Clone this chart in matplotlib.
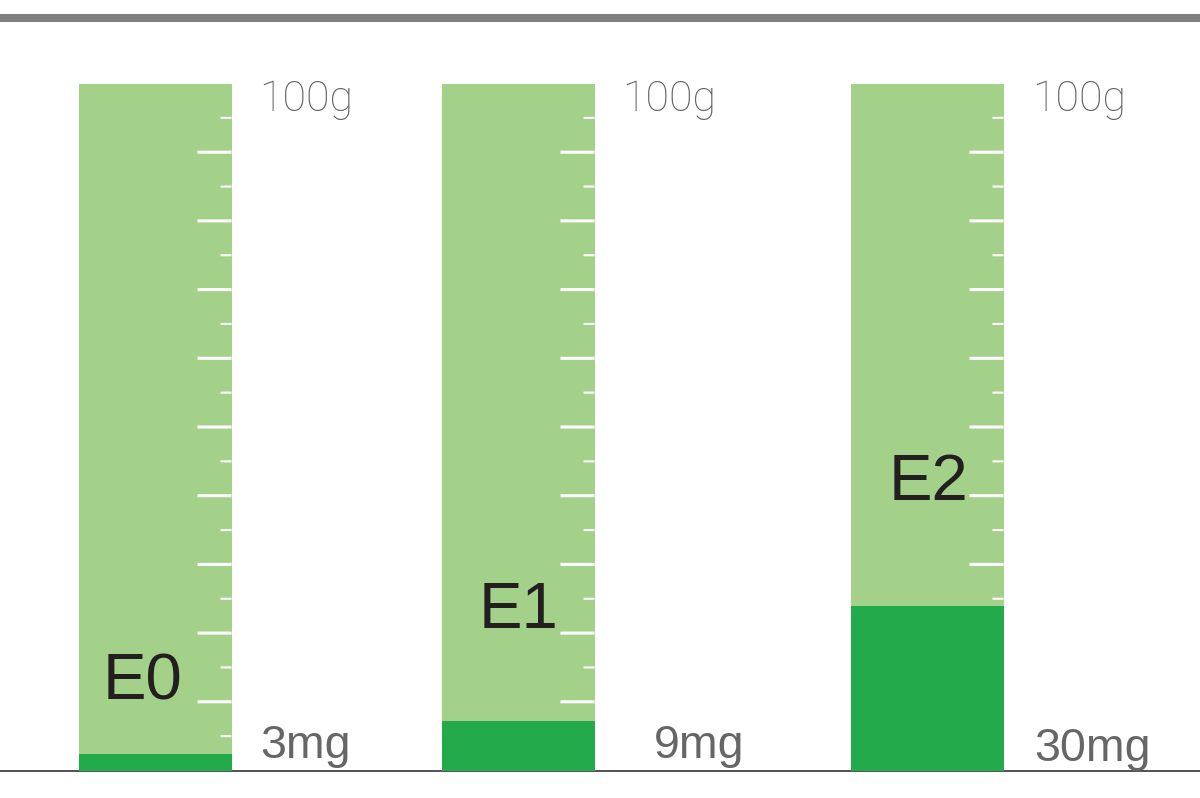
import matplotlib
matplotlib.use("Agg")
import matplotlib.pyplot as plt

# Data
categories = ["E0", "E1", "E2"]
values_mg = [3, 9, 30]
value_labels = ["3mg", "9mg", "30mg"]
scale_label = "100g"
column_full_mg = 125          # the 100g column top, on the same scale as the mg fills
tick_step_mg = 6.25           # alternating minor / major graduations

# Layout (pixels of the 1200x798 canvas)
W, H = 1200, 798
base_px, col_top_px, rule_px = 770.5, 83.5, 18
col_left = [79, 442, 851]
col_w = 152.5
cat_x = [143, 519, 929]                            # centre of category labels
cat_base = [700, 628, 500]                         # baseline of category labels
val_x = [260, 654, 1034]                           # left of value labels
val_base = [758, 758, 761]                         # baseline of value labels
scale_x = [259, 622, 1032]
scale_base = 111

px_per_mg = (base_px - col_top_px) / column_full_mg
ymax = (base_px - rule_px) / px_per_mg
mg = lambda py: (base_px - py) / px_per_mg

fig = plt.figure(figsize=(W / 100, H / 100), dpi=100, facecolor="white")
ax = fig.add_axes([0, (H - base_px) / H, 1, (base_px - rule_px) / H])
ax.set_xlim(0, W)
ax.set_ylim(0, ymax)
ax.set_xticks([])
ax.set_yticks([])
for s in ("left", "right"):
    ax.spines[s].set_visible(False)
ax.spines["top"].set_color("#7f7f7f")
ax.spines["top"].set_linewidth(5.8)
ax.spines["bottom"].set_color("#333333")
ax.spines["bottom"].set_linewidth(1.2)

LIGHT, DARK = "#a3d18a", "#23aa4a"
n_ticks = round(column_full_mg / tick_step_mg)
for i, cat in enumerate(categories):
    x0 = col_left[i]
    ax.bar(x0, column_full_mg, width=col_w, align="edge", color=LIGHT, linewidth=0, zorder=1)
    for k in range(1, n_ticks):
        major = k % 2 == 0
        length = 34 if major else 11
        lines = ax.hlines(k * tick_step_mg, x0 + col_w - length, x0 + col_w, color="white",
                          linewidth=2.2 if major else 1.5, zorder=2)
        lines.set_snap(False)
    ax.bar(x0, values_mg[i], width=col_w, align="edge", color=DARK, linewidth=0, zorder=3)
    ax.text(cat_x[i], mg(cat_base[i]), cat, family="Liberation Sans", fontsize=47,
            color="#231f20", ha="center", va="baseline", zorder=4)
    ax.text(val_x[i], mg(val_base[i]), value_labels[i], family="Liberation Sans", fontsize=33.5,
            color="#666666", ha="left", va="baseline", zorder=4)
    ax.text(scale_x[i], mg(scale_base), scale_label, family="Roboto", fontweight="light", fontsize=31,
            color="#5f5f5f", ha="left", va="baseline", zorder=4)

fig.savefig("out.png", dpi=100, facecolor="white")
